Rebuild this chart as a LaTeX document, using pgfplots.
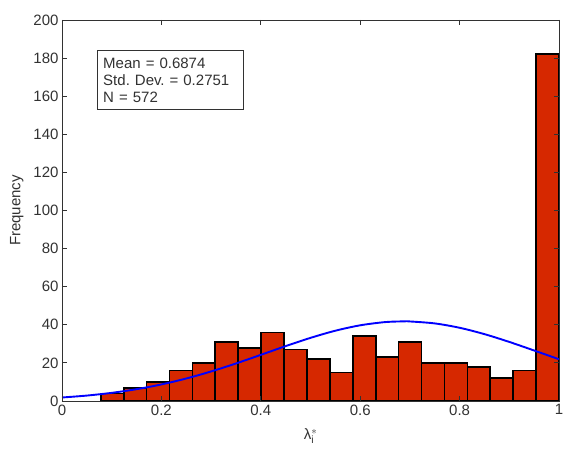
\documentclass[border=0pt]{standalone}
\usepackage{fontspec}
\setmainfont{Liberation Sans}
\usepackage{pgfplots}
\pgfplotsset{compat=1.18}
\usetikzlibrary{calc}
\definecolor{barred}{RGB}{214,40,0}
\definecolor{axgray}{RGB}{50,50,50}

\begin{document}
\frenchspacing
\begin{tikzpicture}
	\begin{axis}
	[
		width=497pt,
		height=381pt,
		scale only axis,
		xmin=0,
		xmax=1,
		ymin=0,
		ymax=200,
		xtick={0,0.2,...,1},
		ytick={0,20,...,200},
		tick align=inside,
		major tick length=5pt,
		axis line style={axgray, line width=0.9pt},
		tick style={axgray, line width=0.9pt},
		/pgf/number format/assume math mode=true,
		tick label style={font=\fontsize{15}{17}\selectfont, text=axgray},
		label style={font=\fontsize{15}{17}\selectfont, text=axgray},
		xlabel={λ$_{\mathrm{i}}^{*}$},
		ylabel={Frequency},
		xlabel style={yshift=-7pt},
		ylabel style={yshift=3pt},
		axis on top,
	]
		% histogram, 20 bins from 0.078 to 1 (bin centres)
		\addplot
		[
			ybar,
			bar width=0.0461,
			bar shift=0pt,
			fill=barred,
			draw=black,
			line width=1.7pt,
		] coordinates
		{
			(0.10105,4) (0.14715,7) (0.19325,10) (0.23935,16) (0.28545,20)
			(0.33155,31) (0.37765,28) (0.42375,36) (0.46985,27) (0.51595,22)
			(0.56205,15) (0.60815,34) (0.65425,23) (0.70035,31) (0.74645,20)
			(0.79255,20) (0.83865,18) (0.88475,12) (0.93085,16) (0.97695,182)
		};
		% fitted normal curve
		\addplot
		[
			color=blue,
			line width=1.9pt,
			smooth,
		] coordinates
		{
			(0,1.84) (0.05,2.85) (0.1,4.28) (0.15,6.20) (0.2,8.70) (0.25,11.81)
			(0.3,15.51) (0.35,19.70) (0.4,24.22) (0.45,28.81) (0.5,33.14)
			(0.55,36.90) (0.6,39.74) (0.65,41.42) (0.6874,41.8) (0.7,41.76)
			(0.75,40.73) (0.8,38.44) (0.85,35.10) (0.9,31.01) (0.95,26.50)
			(1.0,21.92)
		};
		\node[draw=axgray, line width=0.9pt, fill=white, anchor=north west,
			align=left, text width=134pt, inner xsep=6pt, inner ysep=7pt,
			font=\fontsize{15}{17}\selectfont, text=axgray]
			at (axis cs:0.07,184) {Mean = 0.6874\\Std. Dev. = 0.2751\\N = 572};
	\end{axis}
	\pgfresetboundingbox
	\path[use as bounding box] ($(current axis.south west)+(-62pt,-48pt)$) rectangle ($(current axis.north east)+(5pt,20pt)$);
\end{tikzpicture}
\end{document}
